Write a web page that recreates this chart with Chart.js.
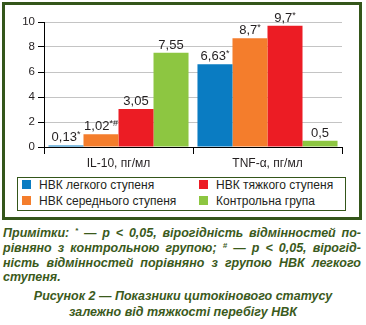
<!DOCTYPE html>
<html><head><meta charset="utf-8">
<script src="https://cdn.jsdelivr.net/npm/chart.js@4.4.1/dist/chart.umd.min.js"></script>
<style>
html,body{margin:0;padding:0;background:#fff;width:366px;height:325px;overflow:hidden;font-family:"Liberation Sans",Arial,sans-serif;}
#frame{position:absolute;left:2px;top:2px;width:354px;height:212px;border:3px solid #34561a;}
#cv{position:absolute;left:0;top:0;}
#legend{position:absolute;left:17px;top:177px;width:327px;height:32px;border:1px solid #34561a;}
.li{position:absolute;font-size:12px;color:#231f20;line-height:14px;white-space:nowrap;}
.sw{position:absolute;width:9px;height:9px;}
#notes{position:absolute;left:3px;top:226px;width:358px;color:#3b5a1c;font-weight:bold;font-style:italic;font-size:12.5px;line-height:14.8px;}
#notes div{text-align:justify;text-align-last:justify;white-space:nowrap;}
#notes div.last{text-align-last:left;}
#cap{position:absolute;left:0;top:289px;width:366px;text-align:center;color:#3b5a1c;font-weight:bold;font-style:italic;font-size:12.5px;line-height:15.5px;}
sup{font-size:8px;vertical-align:4px;line-height:0;}
</style></head>
<body>
<div id="frame"></div>
<canvas id="cv" width="366" height="172"></canvas>
<div id="legend"></div>
<div id="notes">
<div>Примітки: <sup>*</sup> — p &lt; 0,05, вірогідність відмінностей по-</div>
<div>рівняно з контрольною групою; <sup>#</sup> — p &lt; 0,05, вірогід-</div>
<div>ність відмінностей порівняно з групою НВК легкого</div>
<div class="last">ступеня.</div>
</div>
<div id="cap">Рисунок 2 — Показники цитокінового статусу<br>залежно від тяжкості перебігу НВК</div>
<script>
const categories = ["IL-10, пг/мл", "TNF-α, пг/мл"];
const seriesNames = ["НВК легкого ступеня", "НВК середнього ступеня", "НВК тяжкого ступеня", "Контрольна група"];
const mildValues = [0.13, 6.63];
const moderateValues = [1.02, 8.7];
const severeValues = [3.05, 9.7];
const controlValues = [7.55, 0.5];
const mildMarks = ["*", "*"];
const moderateMarks = ["*#", "*"];
const severeMarks = ["", "*"];
const controlMarks = ["", ""];
const yTicks = [0, 2, 4, 6, 8, 10];
const colors = ["#0a7cc2", "#f47d2c", "#ec1c24", "#8dc641"];

const allValues = [mildValues, moderateValues, severeValues, controlValues];
const allMarks = [mildMarks, moderateMarks, severeMarks, controlMarks];

const labelPlugin = {
  id: 'vlabels',
  afterDatasetsDraw(chart) {
    const ctx = chart.ctx;
    chart.data.datasets.forEach((ds, di) => {
      const meta = chart.getDatasetMeta(di);
      meta.data.forEach((bar, i) => {
        const num = String(ds.data[i]).replace('.', ',');
        const mark = allMarks[di][i];
        ctx.save();
        ctx.fillStyle = '#231f20';
        ctx.textBaseline = 'alphabetic';
        ctx.font = '13px "Liberation Sans", Arial, sans-serif';
        const w1 = ctx.measureText(num).width;
        ctx.font = '9px "Liberation Sans", Arial, sans-serif';
        const w2 = mark ? ctx.measureText(mark).width : 0;
        const x0 = bar.x - (w1 + w2) / 2;
        const y = bar.y - 4;
        ctx.font = '13px "Liberation Sans", Arial, sans-serif';
        ctx.textAlign = 'left';
        ctx.fillText(num, x0, y);
        if (mark) {
          ctx.font = '9px "Liberation Sans", Arial, sans-serif';
          ctx.fillText(mark, x0 + w1, y - 4);
        }
        ctx.restore();
      });
    });
  }
};

new Chart(document.getElementById('cv'), {
  type: 'bar',
  data: {
    labels: categories,
    datasets: seriesNames.map((n, k) => ({
      label: n, data: allValues[k], backgroundColor: colors[k],
      categoryPercentage: 0.94, barPercentage: 1.0, borderWidth: 0
    }))
  },
  options: {
    responsive: false, animation: false, devicePixelRatio: 1,
    layout: { padding: { left: 0, right: 24, top: 22, bottom: 0 } },
    plugins: { legend: { display: false }, tooltip: { enabled: false } },
    scales: {
      x: {
        afterFit(s) { s.height = 25; },
        grid: { offset: true, drawOnChartArea: false, tickColor: '#000', tickLength: 7, lineWidth: 1 },
        border: { color: '#000', width: 1 },
        ticks: { color: '#231f20', padding: 2, font: { family: '"Liberation Sans", Arial, sans-serif', size: 12 } }
      },
      y: {
        min: 0, max: 10,
        afterFit(s) { s.width = 44; },
        afterBuildTicks(s) { s.ticks = yTicks.map(v => ({ value: v })); },
        grid: { color: '#c4c4c4', tickColor: '#000', tickLength: 6, lineWidth: 1 },
        border: { color: '#000', width: 1 },
        ticks: { color: '#231f20', padding: 3, font: { family: '"Liberation Sans", Arial, sans-serif', size: 11.5 } }
      }
    }
  },
  plugins: [labelPlugin]
});

const lg = document.getElementById('legend');
const pos = [[0, 0], [0, 1], [1, 0], [1, 1]]; // [col,row]
seriesNames.forEach((n, k) => {
  const [c, r] = pos[k];
  const sx = c ? 181 : 4;
  const ty = r ? 16 : 0;
  const sw = document.createElement('div');
  sw.className = 'sw';
  sw.style.background = colors[k];
  sw.style.left = sx + 'px';
  sw.style.top = (ty + 2) + 'px';
  lg.appendChild(sw);
  const t = document.createElement('div');
  t.className = 'li';
  t.textContent = n;
  t.style.left = (sx + 17) + 'px';
  t.style.top = (ty) + 'px';
  lg.appendChild(t);
});
</script>
</body></html>
